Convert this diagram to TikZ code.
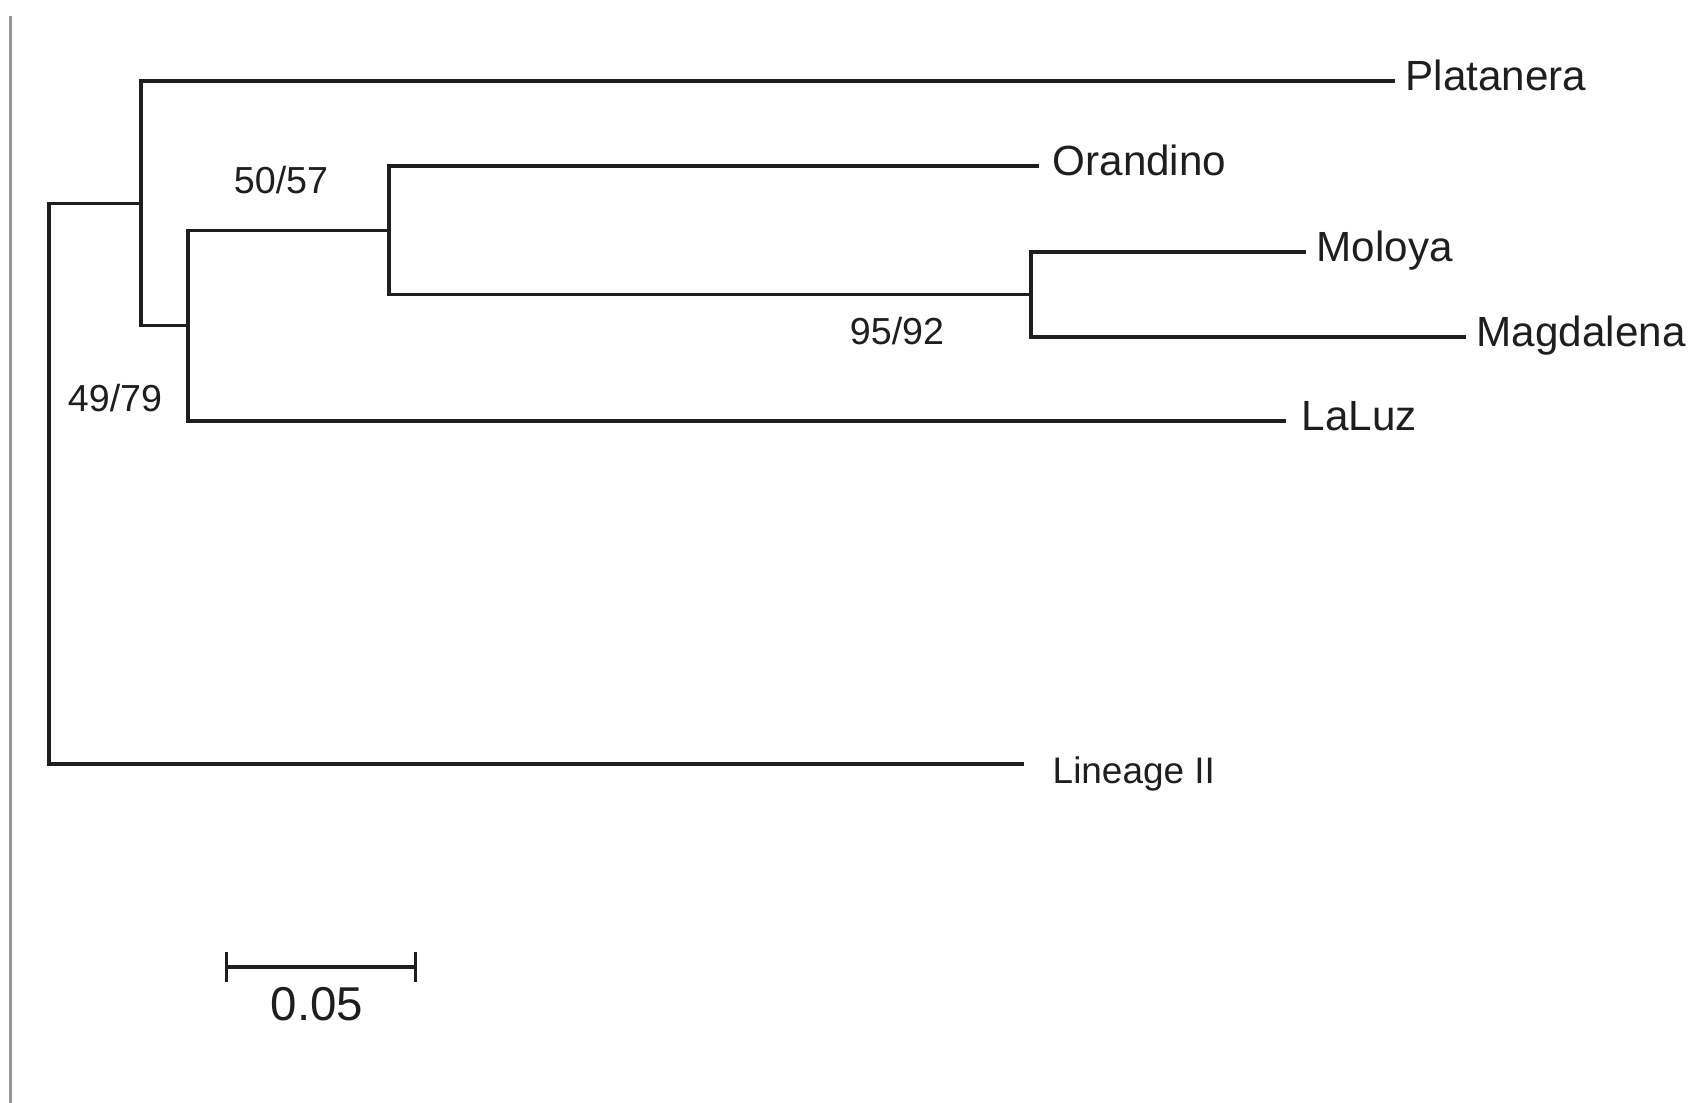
\documentclass[tikz,border=0pt]{standalone}
\usepackage{fontspec}
\setmainfont{Liberation Sans}
\usetikzlibrary{arrows.meta, positioning}
\definecolor{branch}{RGB}{30,30,30}
\definecolor{frame}{RGB}{150,150,150}

\begin{document}
\begin{tikzpicture}[
  x=0.01cm, y=-0.01cm,
  edge/.style={draw=branch, line width=0.9pt},
  taxon/.style={anchor=base west, inner sep=0pt, xshift=0.1cm, yshift=-0.09cm,
    font=\fontsize{12}{14}\selectfont, text=branch},
  support/.style={inner sep=0pt, font=\fontsize{10.7}{12}\selectfont, text=branch}
]
\useasboundingbox (0,0) rectangle (1702,1103);
\draw[frame, line width=0.6pt] (10.5,16) -- (10.5,1103);

\coordinate (root) at (49,483.6);
\coordinate (nA) at (141,203.3);
\coordinate (nB) at (188,325.6);
\coordinate (nC) at (389,230.3);
\coordinate (nD) at (1031,294.5);

\coordinate (plat) at (1395,81);
\coordinate (oran) at (1039,166);
\coordinate (molo) at (1306,252);
\coordinate (magd) at (1466,337);
\coordinate (laluz) at (1286,421);
\coordinate (lin) at (1024,764);

\draw[edge] (root) |- (nA);
\draw[edge] (root) |- (lin);
\draw[edge] (nA) |- (plat);
\draw[edge] (nA) |- (nB);
\draw[edge] (nB) |- (nC);
\draw[edge] (nB) |- (laluz);
\draw[edge] (nC) |- (oran);
\draw[edge] (nC) |- (nD);
\draw[edge] (nD) |- (molo);
\draw[edge] (nD) |- (magd);

\node[taxon] (tPlat) at (plat) {Platanera};
\node[taxon, xshift=0.03cm] (tOran) at (oran) {Orandino};
\node[taxon] (tMolo) at (molo) {Moloya};
\node[taxon] (tMagd) at (magd) {Magdalena};
\node[taxon, xshift=0.05cm] (tLaluz) at (laluz) {LaLuz};
\node[taxon, xshift=0.18cm, yshift=-0.1cm, font=\fontsize{10.5}{12}\selectfont] (tLin) at (lin) {Lineage II};

\node[support] (bC) at (281,180) {50/57};
\node[support] (bD) at (897,331) {95/92};
\node[support] (bB) at (115,398) {49/79};

\coordinate (sbL) at (225,967);
\coordinate (sbR) at (417,967);
\draw[edge, {Bar[width=3mm]}-{Bar[width=3mm]}] (sbL) -- (sbR);
\node[inner sep=0pt, font=\fontsize{13.5}{15}\selectfont, text=branch] (sbText) at (317,1004) {0.05};
\end{tikzpicture}
\end{document}
